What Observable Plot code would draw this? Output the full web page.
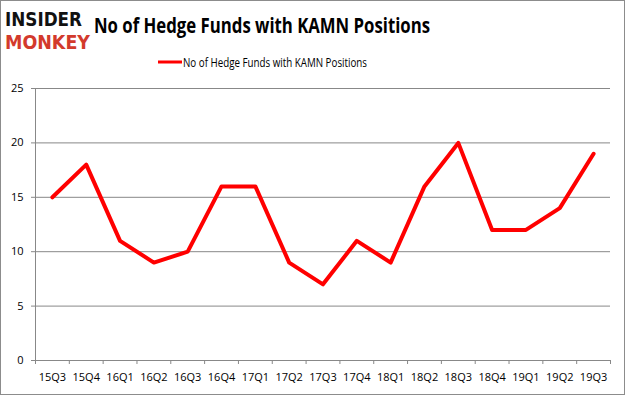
<!DOCTYPE html>
<html><head><meta charset="utf-8">
<script src="https://cdn.jsdelivr.net/npm/d3@7"></script>
<script src="https://cdn.jsdelivr.net/npm/@observablehq/plot@0.6"></script>
<style>
body{margin:0;background:#fff}
#wrap{position:relative;width:625px;height:395px;overflow:hidden;font-family:"Open Sans",sans-serif;background:#fff}
#wrap > svg{position:absolute;left:0;top:0}
#border{position:absolute;left:0;top:0;width:623px;height:393px;border:1px solid #8c8c8c;pointer-events:none}
</style></head>
<body><div id="wrap">
<svg id="head" width="625" height="80" style="z-index:2">
  <text x="5" y="26" textLength="77" lengthAdjust="spacingAndGlyphs" font-family="DejaVu Sans" font-weight="bold" font-size="19.5" fill="#111">INSIDER</text>
  <text x="5" y="48.8" textLength="85" lengthAdjust="spacingAndGlyphs" font-family="DejaVu Sans" font-weight="bold" font-size="19.5" fill="#d33a2c">MONKEY</text>
  <text x="94" y="33" textLength="336" lengthAdjust="spacingAndGlyphs" font-family="Open Sans" font-weight="bold" font-size="22" fill="#000">No of Hedge Funds with KAMN Positions</text>
  <line x1="158" x2="182" y1="62" y2="62" stroke="#ff0000" stroke-width="3"/>
  <text x="183" y="66.5" textLength="184" lengthAdjust="spacingAndGlyphs" font-family="Open Sans" font-size="12" fill="#000">No of Hedge Funds with KAMN Positions</text>
</svg>
<div id="border"></div>
</div>
<script>
const quarters = ["15Q3","15Q4","16Q1","16Q2","16Q3","16Q4","17Q1","17Q2","17Q3","17Q4","18Q1","18Q2","18Q3","18Q4","19Q1","19Q2","19Q3"];
const funds = [15,18,11,9,10,16,16,9,7,11,9,16,20,12,12,14,19];
const yTicks = [0,5,10,15,20,25];

const data = quarters.map((q, i) => ({q, i, v: funds[i]}));

const plot = Plot.plot({
  width: 625, height: 395,
  marginLeft: 35, marginRight: 15, marginTop: 88, marginBottom: 35,
  style: {fontFamily: "Open Sans", fontSize: "11px", color: "#000", background: "transparent"},
  x: {type: "linear", domain: [0, quarters.length], axis: null, label: null},
  y: {domain: [0, 25], axis: null, label: null},
  marks: [
    Plot.ruleY(yTicks, {stroke: "#888", strokeWidth: 1}),
    Plot.ruleX([0], {y1: 0, y2: 25, stroke: "#888", strokeWidth: 1}),
    Plot.axisX(d3.range(quarters.length + 1), {tickSize: 4, tickFormat: () => "", label: null, stroke: "#888", strokeOpacity: 1}),
    Plot.axisX(data.map(d => d.i + 0.5), {tickSize: 0, tickPadding: 13, label: null, tickFormat: x => quarters[Math.floor(x)], fill: "#000"}),
    Plot.axisY(yTicks, {tickSize: 4, tickPadding: 8, label: null, stroke: "#888", strokeOpacity: 1, fill: "#000"}),
    Plot.line(data, {x: d => d.i + 0.5, y: "v", stroke: "#ff0000", strokeWidth: 4})
  ]
});
document.getElementById("wrap").prepend(plot);
</script>
</body></html>
